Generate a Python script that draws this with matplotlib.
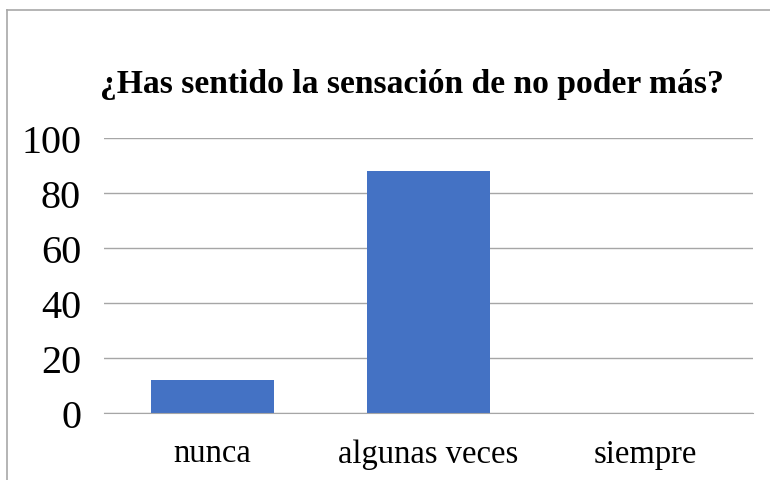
import matplotlib
matplotlib.use("Agg")
import matplotlib.pyplot as plt
from matplotlib.lines import Line2D

categories = ["nunca", "algunas veces", "siempre"]
values = [12, 88, 0]
yticks = [0, 20, 40, 60, 80, 100]
title = "¿Has sentido la sensación de no poder más?"

plt.rcParams['font.family'] = ['Liberation Serif', 'DejaVu Serif']

fig = plt.figure(figsize=(7.7, 4.81), dpi=100)
ax = fig.add_axes([104/770, 1-414/481, (753-104)/770, (414-139)/481])

x = list(range(len(categories)))
ax.bar(x, values, width=0.57, color="#4472C4", zorder=3)
ax.set_xlim(-0.5, 2.5)
ax.set_ylim(0, 100)
ax.set_yticks(yticks)
ax.set_yticklabels([str(v) for v in yticks], fontsize=29)
ax.set_xticks(x)
ax.set_xticklabels(categories, fontsize=23.5)
ax.tick_params(axis='both', length=0)
ax.tick_params(axis='y', pad=16.5)
ax.tick_params(axis='x', pad=18)
ax.grid(axis='y', color="#A6A6A6", linewidth=1.0, zorder=0)
for s in ['top', 'right', 'left']:
    ax.spines[s].set_visible(False)
ax.spines['bottom'].set_color("#A6A6A6")
ax.spines['bottom'].set_zorder(4)

fig.text(0.535, 1-84/481, title, ha='center', va='center', fontsize=24.2, fontweight='bold')

# outer border (partially visible)
fig.add_artist(Line2D([7/770, 1], [1-11/481, 1-11/481], color="#A8A8A8", linewidth=1.2))
fig.add_artist(Line2D([7/770, 7/770], [0, 1-11/481], color="#A8A8A8", linewidth=1.2))

fig.savefig("out.png", dpi=100, facecolor="white")
